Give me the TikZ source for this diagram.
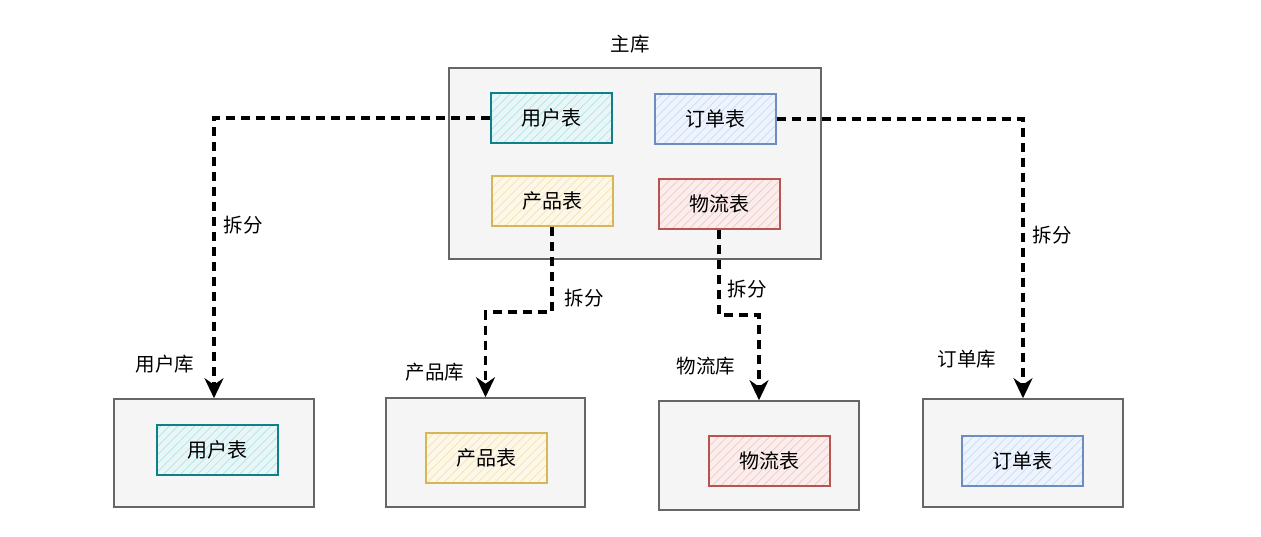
\documentclass[tikz,border=0pt]{standalone}
\usepackage{fontspec}
\newfontfamily\cjk{Noto Sans CJK SC}
\usetikzlibrary{arrows.meta,patterns.meta}
\definecolor{kuFill}{HTML}{F5F5F5}
\definecolor{kuLine}{HTML}{666666}
\definecolor{tealLine}{HTML}{0E8088}
\definecolor{tealBg}{HTML}{E8F6F7}
\definecolor{tealHatch}{HTML}{B0E3E6}
\definecolor{blueLine}{HTML}{6C8EBF}
\definecolor{blueBg}{HTML}{EEF4FD}
\definecolor{blueHatch}{HTML}{C9DBF4}
\definecolor{orangeLine}{HTML}{D6B656}
\definecolor{orangeBg}{HTML}{FDF7E8}
\definecolor{orangeHatch}{HTML}{F4E0B4}
\definecolor{redLine}{HTML}{B85450}
\definecolor{redBg}{HTML}{FBEDEC}
\definecolor{redHatch}{HTML}{EEC8C6}
\tikzset{
  ku/.style={rectangle, draw=kuLine, fill=kuFill, line width=1.6pt},
  biao/.style={rectangle, line width=2pt, minimum width=121pt, minimum height=50pt,
    font=\cjk\fontsize{20}{24}\selectfont,
    pattern={Lines[angle=45,distance=6pt,line width=0.7pt]}},
  yonghu/.style={biao, draw=tealLine, preaction={fill=tealBg}, pattern color=tealHatch},
  dingdan/.style={biao, draw=blueLine, preaction={fill=blueBg}, pattern color=blueHatch},
  chanpin/.style={biao, draw=orangeLine, preaction={fill=orangeBg}, pattern color=orangeHatch},
  wuliu/.style={biao, draw=redLine, preaction={fill=redBg}, pattern color=redHatch},
  biaoti/.style={font=\cjk\fontsize{19.5}{23}\selectfont, inner sep=0pt},
  chaifen/.style={draw=black, line width=3.2pt, dash pattern=on 9pt off 6pt,
    -{Stealth[length=20pt,width=19pt]}}
}
\begin{document}
\begin{tikzpicture}[x=1pt,y=-1pt]
\useasboundingbox (0,0) rectangle (1261,536);
% main database
\node[ku, minimum width=372pt, minimum height=191pt] (zhuku) at (635,163.5){};
\node[biaoti] (zhukuT) at (630,44){主库};
\node[yonghu] (yh0) at (551,118){用户表};
\node[dingdan] (dd0) at (715,119){订单表};
\node[chanpin] (cp0) at (552,201){产品表};
\node[wuliu] (wl0) at (719,204){物流表};
% split databases
\node[ku, minimum width=200pt, minimum height=108pt] (yhku) at (214,453){};
\node[yonghu] (yh1) at (217,449.5){用户表};
\node[biaoti] (yhkuT) at (165,364){用户库};
\node[ku, minimum width=199pt, minimum height=109pt] (cpku) at (485.5,452.5){};
\node[chanpin] (cp1) at (486,458){产品表};
\node[biaoti] (cpkuT) at (435,372){产品库};
\node[ku, minimum width=200pt, minimum height=109pt] (wlku) at (759,455.5){};
\node[wuliu] (wl1) at (769,460.5){物流表};
\node[biaoti] (wlkuT) at (706,366){物流库};
\node[ku, minimum width=200pt, minimum height=108pt] (ddku) at (1023,453){};
\node[dingdan] (dd1) at (1022.5,460.5){订单表};
\node[biaoti] (ddkuT) at (967,359){订单库};
% split arrows
\draw[chaifen] (yh0.west) -| (yhku.north);
\draw[chaifen] (dd0.east) -| (ddku.north);
\draw[chaifen] (cp0.south) -- ++(0,85) -| (cpku.north);
\draw[chaifen] (wl0.south) -- ++(0,85) -| (wlku.north);
\node[biaoti] (cf1) at (243,225){拆分};
\node[biaoti] (cf2) at (1052,235){拆分};
\node[biaoti] (cf3) at (584,298){拆分};
\node[biaoti] (cf4) at (747,289){拆分};
\end{tikzpicture}
\end{document}
